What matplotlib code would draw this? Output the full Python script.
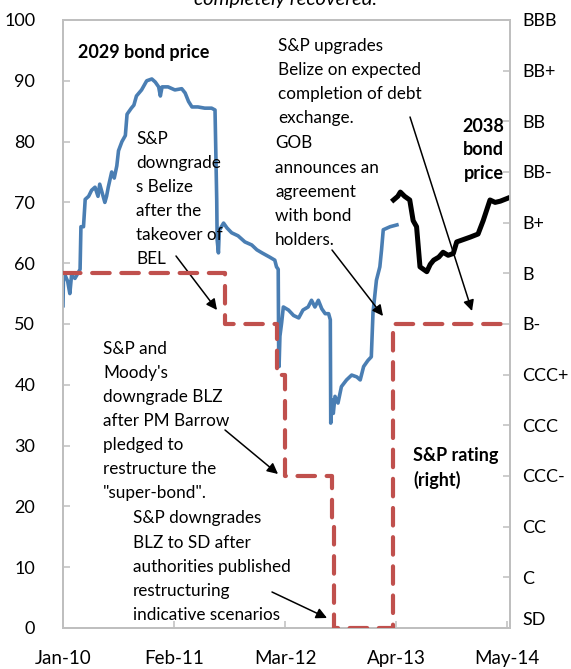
import matplotlib
matplotlib.use("Agg")
import matplotlib.pyplot as plt

plt.rcParams['font.family'] = ['Lato', 'DejaVu Sans']

# ---------------- data ----------------
# months since Jan-2010
bond2029_month = [0.0, 0.05, 0.25, 0.55, 0.8, 1.0, 1.4, 1.8, 2.0, 2.1, 2.4, 2.6, 3.0, 3.35,
                  3.75, 4.1, 4.3, 4.6, 4.9, 5.1, 5.3, 5.7, 6.0, 6.3, 6.5, 6.9, 7.3, 7.5,
                  8.0, 8.3, 8.6, 9.2, 9.8, 10.4, 10.8, 11.2, 11.4, 11.6, 12.3, 13.1, 13.9,
                  14.3, 14.5, 14.7, 15.1, 15.8, 16.6, 17.4, 17.8, 18.0, 18.05, 18.2, 18.3,
                  18.8, 19.2, 19.75, 20.5, 21.3, 22.1, 22.7, 23.3, 24.2, 24.8, 25.0, 25.2,
                  25.25, 25.3, 25.4, 25.6, 25.8, 26.4, 27.0, 27.6, 28.1, 28.7, 29.1, 29.5,
                  29.9, 30.3, 30.7, 31.1, 31.3, 31.35, 31.5, 31.65, 31.85, 32.2, 32.6, 33.2,
                  33.8, 34.4, 34.8, 35.2, 35.7, 36.1, 36.3, 36.7, 37.1, 37.3, 37.5, 38.3, 39.1]
bond2029_price = [53, 57.5, 58, 57, 55, 58, 57.5, 58.5, 59, 66, 66, 70.5, 71, 72,
                  72.5, 71, 73, 71.5, 70, 71, 72.5, 75, 74, 76, 78.5, 80, 81, 84.5,
                  85.5, 86, 87.5, 88.5, 90, 90.3, 89.8, 89, 87.5, 89, 89, 88.5, 88.7,
                  88, 87.3, 86.6, 85.7, 85.7, 85.5, 85.5, 85.2, 70.4, 63.8, 61.7, 65.4,
                  66.6, 65.8, 65, 64.5, 63.5, 63, 62.2, 61.7, 61, 60.5, 59.4, 59,
                  46.3, 43, 48, 50.2, 52.8, 52.3, 51.4, 51, 52.3, 52.8, 53.9, 52.8,
                  53.9, 52.5, 51.7, 51.7, 50.7, 33.7, 37.5, 35.3, 38.1, 37, 39.7, 40.8,
                  41.6, 41.3, 40.8, 43, 44, 44.6, 51.9, 57.2, 59.4, 62.2, 65.5, 66, 66.3]

bond2038_month = [38.7, 39.2, 39.5, 40.0, 40.6, 41.0, 41.4, 41.8, 42.2, 42.6, 43.0, 43.4,
                  44.0, 44.5, 45.1, 45.7, 46.1, 46.9, 47.7, 48.6, 49.2, 50.0, 50.6, 51.2, 52.1]
bond2038_price = [70.4, 71.0, 71.7, 71.0, 70.4, 67.0, 66.0, 59.4, 59.0, 58.6, 59.8, 60.5,
                  61.0, 61.8, 61.3, 61.6, 63.5, 63.9, 64.3, 64.8, 67.0, 70.4, 70.0, 70.2, 70.7]

rating_month = [0, 19.0, 25.1, 26.0, 31.5, 31.7, 38.6, 52.34]
rating_level = [7, 6, 5, 3, 2, 0, 6, 6]   # index into rating_labels

rating_labels = ['SD', 'C', 'CC', 'CCC-', 'CCC', 'CCC+', 'B-', 'B', 'B+', 'BB-', 'BB', 'BB+', 'BBB']
left_ticks = [0, 10, 20, 30, 40, 50, 60, 70, 80, 90, 100]
x_tick_months = [0, 13, 26, 39, 52]
x_tick_labels = ['Jan-10', 'Feb-11', 'Mar-12', 'Apr-13', 'May-14']

# ---------------- figure ----------------
W, H = 571, 669
fig = plt.figure(figsize=(W / 100, H / 100), dpi=100)
ax = fig.add_axes([63 / W, 41 / H, 447 / W, 608 / H])
ax2 = ax.twinx()

gray = '#BFBFBF'
BLUE = '#4A7EB3'
RED = '#C0504D'

ax.plot(bond2029_month, bond2029_price, color=BLUE, lw=2.6, solid_joinstyle='round', zorder=3)
ax.plot(bond2038_month, bond2038_price, color='black', lw=3.6, solid_joinstyle='round', zorder=3)
ax2.plot(rating_month, rating_level, color=RED, lw=3.0, drawstyle='steps-post',
         dashes=(4.2, 2.8), dash_capstyle='round', zorder=4)

ax.set_xlim(0, 52.34)
ax.set_ylim(0, 100)
ax2.set_ylim(0, 12)

ax.set_yticks(left_ticks)
ax.set_yticklabels([str(v) for v in left_ticks])
ax.set_xticks(x_tick_months)
ax.set_xticklabels(x_tick_labels)
ax2.set_yticks(range(len(rating_labels)))
ax2.set_yticklabels(rating_labels)

for a in (ax, ax2):
    for s in a.spines.values():
        s.set_color(gray)
        s.set_linewidth(1.3)
    a.tick_params(axis='both', direction='in', length=5, width=1.1, color=gray,
                  labelsize=13, labelcolor='black')
ax.tick_params(axis='x', labelsize=13.5)
ax.tick_params(axis='y', pad=20)
ax.tick_params(axis='x', pad=16)
ax2.tick_params(axis='y', pad=9)
ax2.get_yticklabels()[0].set_va('bottom')

# ---------------- text ----------------
def px(x, y):
    """pixel position in the figure -> data coords of ax"""
    return ((x - 63) / 8.54, (628 - y) / 6.08)

FS = 12.3
tk = dict(fontsize=FS, linespacing=1.62, va='top', ha='left')
bk = dict(fontsize=13, fontweight='bold', linespacing=1.45, va='top')
arrow = dict(arrowstyle='-|>', color='black', lw=1.1, mutation_scale=16, shrinkA=0, shrinkB=0)

fig.text(286 / W, 1 - 5 / H, 'completely recovered.', fontsize=14.5, style='italic',
         ha='center', va='baseline')

ax.text(*px(78, 44), '2029 bond price', ha='left', **bk)
ax.text(*px(278, 37.5), 'S&P upgrades\nBelize on expected\ncompletion of debt\nexchange.', **tk)
ax.text(*px(275, 135.5), 'GOB\nannounces an\nagreement\nwith bond\nholders.', **tk)
ax.text(*px(504, 118), '2038\nbond\nprice', ha='right', **bk)
ax.text(*px(136, 130.5), 'S&P\ndowngrade\ns Belize\nafter the\ntakeover of\nBEL', **tk)
ax.text(*px(103, 340.5), "S&P and\nMoody's\ndowngrade BLZ\nafter PM Barrow\npledged to\nrestructure the\n\"super-bond\".", **tk)
ax.text(*px(133, 510.5), 'S&P downgrades\nBLZ to SD after\nauthorities published\nrestructuring\nindicative scenarios', **tk)
ax.text(*px(413, 447), 'S&P rating\n(right)', ha='left', **bk)

ax.annotate('', xy=px(472, 311), xytext=px(410, 117), arrowprops=arrow, zorder=6)
ax.annotate('', xy=px(383, 316), xytext=px(332, 250), arrowprops=arrow, zorder=6)
ax.annotate('', xy=px(217, 310), xytext=px(176, 256), arrowprops=arrow, zorder=6)
ax.annotate('', xy=px(278, 474), xytext=px(225, 430), arrowprops=arrow, zorder=6)
ax.annotate('', xy=px(327, 618), xytext=px(272, 592), arrowprops=arrow, zorder=6)

ax2.set_zorder(ax.get_zorder() + 1)
ax2.patch.set_visible(False)

fig.savefig('out.png', dpi=100)
